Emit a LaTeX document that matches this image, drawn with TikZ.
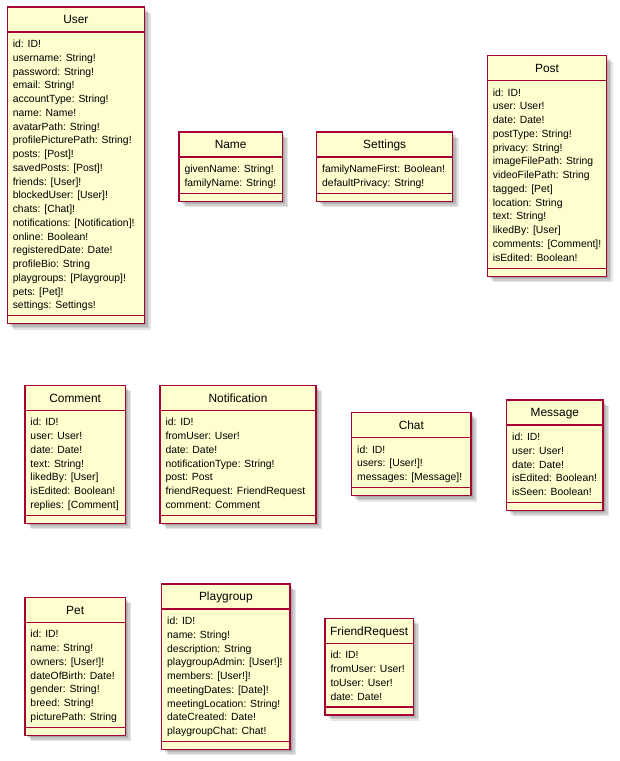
\documentclass[tikz,border=0pt]{standalone}
\usepackage{fontspec}
\setmainfont{Liberation Sans}
\definecolor{umlfill}{HTML}{FEFECE}
\definecolor{umlborder}{HTML}{A80036}
\tikzset{
  classbox/.style={draw=umlborder, fill=umlfill, line width=1.2pt},
  classline/.style={draw=umlborder, line width=1.2pt},
  classshadow/.style={fill=black, opacity=0.10},
  classtitle/.style={font=\fontsize{11.9}{14}\selectfont, inner sep=0pt, anchor=base},
  classattr/.style={font=\fontsize{10.4}{13}\selectfont, inner sep=0pt, anchor=base west},
}
% #1 id, #2 x1, #3 x2, #4 top, #5 title, #6 number of lines, #7 lines
\newcommand{\umlclass}[7]{%
  \pgfmathsetmacro\Hy{#4+25}%
  \pgfmathsetmacro\Fy{\Hy+11.7}%
  \pgfmathsetmacro\Sy{\Fy+13.75*(#6-1)+10.7}%
  \pgfmathsetmacro\By{\Sy+8}%
  \fill[classshadow] (#2+1.5,#4+1.5) rectangle (#3+1.5,\By+1.5);
  \fill[classshadow] (#2+3,#4+3) rectangle (#3+3,\By+3);
  \fill[classshadow] (#2+4.5,#4+4.5) rectangle (#3+4.5,\By+4.5);
  \fill[classshadow] (#2+6,#4+6) rectangle (#3+6,\By+6);
  \draw[classbox] (#2,#4) rectangle (#3,\By);
  \draw[classline] (#2,\Hy) -- (#3,\Hy);
  \draw[classline] (#2,\Sy) -- (#3,\Sy);
  \node[classtitle] (#1-title) at ({(#2+#3)/2},{(#4+\Hy)/2+4.3}) {#5};
  \foreach \t [count=\i] in {#7} {
    \node[classattr] (#1-a\i) at (#2+5.3,{\Fy+3.8+13.75*(\i-1)}) {\t};
  }
}
\begin{document}
\begin{tikzpicture}[x=1pt,y=-1pt]
\useasboundingbox (0,0) rectangle (619,761);
\umlclass{user}{7.3}{144.5}{7}{User}{20}{{id: ID!},{username: String!},{password: String!},{email: String!},{accountType: String!},{name: Name!},{avatarPath: String!},{profilePicturePath: String!},{posts: [Post]!},{savedPosts: [Post]!},{friends: [User]!},{blockedUser: [User]!},{chats: [Chat]!},{notifications: [Notification]!},{online: Boolean!},{registeredDate: Date!},{profileBio: String},{playgroups: [Playgroup]!},{pets: [Pet]!},{settings: Settings!}}
\umlclass{name}{179}{282.3}{132}{Name}{2}{{givenName: String!},{familyName: String!}}
\umlclass{settings}{316.7}{452.7}{132}{Settings}{2}{{familyNameFirst: Boolean!},{defaultPrivacy: String!}}
\umlclass{post}{487.3}{606.7}{55.7}{Post}{13}{{id: ID!},{user: User!},{date: Date!},{postType: String!},{privacy: String!},{imageFilePath: String},{videoFilePath: String},{tagged: [Pet]},{location: String},{text: String!},{likedBy: [User]},{comments: [Comment]!},{isEdited: Boolean!}}
\umlclass{comment}{25}{125.3}{385.3}{Comment}{7}{{id: ID!},{user: User!},{date: Date!},{text: String!},{likedBy: [User]},{isEdited: Boolean!},{replies: [Comment]}}
\umlclass{notification}{160}{316}{385.3}{Notification}{7}{{id: ID!},{fromUser: User!},{date: Date!},{notificationType: String!},{post: Post},{friendRequest: FriendRequest},{comment: Comment}}
\umlclass{chat}{351.7}{471}{412.7}{Chat}{3}{{id: ID!},{users: [User!]!},{messages: [Message]!}}
\umlclass{message}{506.7}{603}{400}{Message}{5}{{id: ID!},{user: User!},{date: Date!},{isEdited: Boolean!},{isSeen: Boolean!}}
\umlclass{pet}{25}{125.3}{597.3}{Pet}{7}{{id: ID!},{name: String!},{owners: [User!]!},{dateOfBirth: Date!},{gender: String!},{breed: String!},{picturePath: String}}
\umlclass{playgroup}{161.7}{290}{584}{Playgroup}{9}{{id: ID!},{name: String!},{description: String},{playgroupAdmin: [User!]!},{members: [User!]!},{meetingDates: [Date]!},{meetingLocation: String!},{dateCreated: Date!},{playgroupChat: Chat!}}
\umlclass{friendrequest}{325}{413.3}{618.3}{FriendRequest}{4}{{id: ID!},{fromUser: User!},{toUser: User!},{date: Date!}}
\end{tikzpicture}
\end{document}
